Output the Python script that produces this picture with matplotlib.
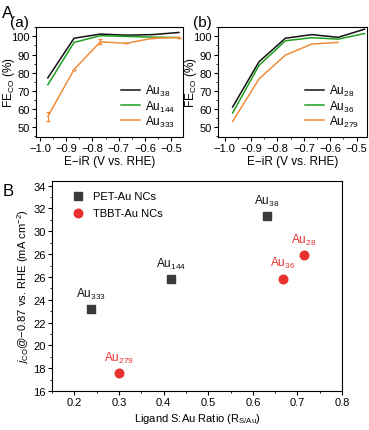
import matplotlib.pyplot as plt
import numpy as np
from matplotlib.ticker import MultipleLocator, FixedLocator, FixedFormatter

plt.rcParams['font.family'] = ['Liberation Sans', 'DejaVu Sans']
plt.rcParams['mathtext.fontset'] = 'custom'
plt.rcParams['mathtext.rm'] = 'Liberation Sans'
plt.rcParams['mathtext.it'] = 'Liberation Sans:italic'

# potentials (V vs. RHE)
potential = [-0.97, -0.87, -0.77, -0.67, -0.57, -0.47]

# panel (a) FE_CO (%)
fe_au38 = [77.1, 99.0, 101.3, 100.7, 101.0, 102.2]
fe_au144 = [73.3, 96.7, 100.4, 100.0, 99.6, 99.4]
fe_au333 = [55.8, 81.7, 97.0, 96.2, 99.0, 99.4]
err_au333 = [2.6, 0.0, 1.4, 0.0, 0.0, 0.0]

# panel (b) FE_CO (%)
fe_au28 = [61.0, 86.0, 99.0, 101.0, 99.5, 104.0]
fe_au36 = [57.7, 84.0, 97.6, 99.3, 98.5, 101.6]
fe_au279 = [53.0, 76.5, 89.7, 95.8, 96.7]

# panel B
pet_names = ['Au$_{38}$', 'Au$_{144}$', 'Au$_{333}$']
pet_ratio = [0.632, 0.417, 0.237]
pet_j = [31.35, 25.8, 23.2]
tbbt_names = ['Au$_{28}$', 'Au$_{36}$', 'Au$_{279}$']
tbbt_ratio = [0.714, 0.667, 0.301]
tbbt_j = [27.9, 25.85, 17.55]
yticks_B = [16, 18, 20, 22, 24, 26, 28, 30, 32, 34]
ytick_labels_B = ['16', '18', '20', '22', '24', '26', '26', '30', '32', '34']

c_black = '#111111'
c_green = '#1e9e1e'
c_orange = '#f08c3a'
c_gray = '#3a3a3a'
c_red = '#e8312f'

fig = plt.figure(figsize=(3.69, 4.31), dpi=100)

def style_fe(ax):
    ax.set_xlim(-1.015, -0.455)
    ax.set_ylim(44.5, 105.2)
    ax.xaxis.set_major_locator(MultipleLocator(0.1))
    ax.xaxis.set_minor_locator(MultipleLocator(0.05))
    ax.yaxis.set_major_locator(MultipleLocator(10))
    ax.yaxis.set_minor_locator(MultipleLocator(5))
    ax.tick_params(labelsize=8, length=3, width=0.8, pad=1.5)
    ax.tick_params(which='minor', length=1.5, width=0.6)
    ax.set_xlabel('E\u2212iR (V vs. RHE)', fontsize=8.5, labelpad=1)
    ax.set_ylabel('FE$_{\\rm CO}$ (%)', fontsize=8.5)
    ax.yaxis.set_label_coords(-0.13, 0.5)
    for s in ax.spines.values():
        s.set_linewidth(0.8)
    ax.legend(loc='lower right', frameon=False, fontsize=8.5, handlelength=1.6,
              handletextpad=0.4, labelspacing=0.0, borderaxespad=0.3)

ax1 = fig.add_axes([0.0976, 0.680, 0.398, 0.255])
ax1.plot(potential, fe_au38, color=c_black, lw=1.1, label='Au$_{38}$')
ax1.plot(potential, fe_au144, color=c_green, lw=1.1, label='Au$_{144}$')
ax1.plot(potential, fe_au333, color=c_orange, lw=1.1, label='Au$_{333}$')
ax1.errorbar(potential, fe_au333, yerr=err_au333, fmt='none', ecolor=c_orange,
             elinewidth=0.8, capsize=1.5)
style_fe(ax1)

ax2 = fig.add_axes([0.591, 0.680, 0.404, 0.255])
ax2.plot(potential, fe_au28, color=c_black, lw=1.1, label='Au$_{28}$')
ax2.plot(potential, fe_au36, color=c_green, lw=1.1, label='Au$_{36}$')
ax2.plot(potential[:len(fe_au279)], fe_au279, color=c_orange, lw=1.1, label='Au$_{279}$')
style_fe(ax2)
ax2.set_xlim(-1.025, -0.46)

fig.text(0.005, 0.985, 'A', fontsize=12, va='top')
fig.text(0.027, 0.962, '(a)', fontsize=11, va='top')
fig.text(0.522, 0.962, '(b)', fontsize=11, va='top')
fig.text(0.008, 0.572, 'B', fontsize=12, va='top')

# panel B
ax3 = fig.add_axes([0.141, 0.0905, 0.786, 0.487])
ax3.scatter(pet_ratio, pet_j, marker='s', s=26, color=c_gray, label='PET-Au NCs', zorder=3)
ax3.scatter(tbbt_ratio, tbbt_j, marker='o', s=38, color=c_red, label='TBBT-Au NCs', zorder=3)
for n, x, y in zip(pet_names, pet_ratio, pet_j):
    ax3.annotate(n, (x, y), xytext=(0, 6), textcoords='offset points',
                 ha='center', va='bottom', fontsize=8.5, color=c_black)
for n, x, y in zip(tbbt_names, tbbt_ratio, tbbt_j):
    ax3.annotate(n, (x, y), xytext=(0, 6), textcoords='offset points',
                 ha='center', va='bottom', fontsize=8.5, color=c_red)
ax3.set_xlim(0.15, 0.8)
ax3.set_ylim(16, 34.4)
ax3.xaxis.set_major_locator(MultipleLocator(0.1))
ax3.xaxis.set_minor_locator(MultipleLocator(0.05))
ax3.yaxis.set_major_locator(FixedLocator(yticks_B))
ax3.yaxis.set_major_formatter(FixedFormatter(ytick_labels_B))
ax3.yaxis.set_minor_locator(MultipleLocator(1))
ax3.tick_params(labelsize=8, length=3, width=0.8, pad=1.5)
ax3.tick_params(which='minor', length=1.5, width=0.6)
for s in ax3.spines.values():
    s.set_linewidth(0.8)
ax3.set_xlabel('Ligand S:Au Ratio (R$_{\\rm S/Au}$)', fontsize=8, labelpad=3)
ax3.set_ylabel('$j_{\\rm CO}$@\u22120.87 vs. RHE (mA cm$^{-2}$)', fontsize=8, labelpad=2)
ax3.legend(loc='upper left', frameon=False, fontsize=8, handletextpad=0.3,
           labelspacing=0.6, borderaxespad=0.3, bbox_to_anchor=(0.025, 0.99))

fig.savefig('out.png', dpi=100)
